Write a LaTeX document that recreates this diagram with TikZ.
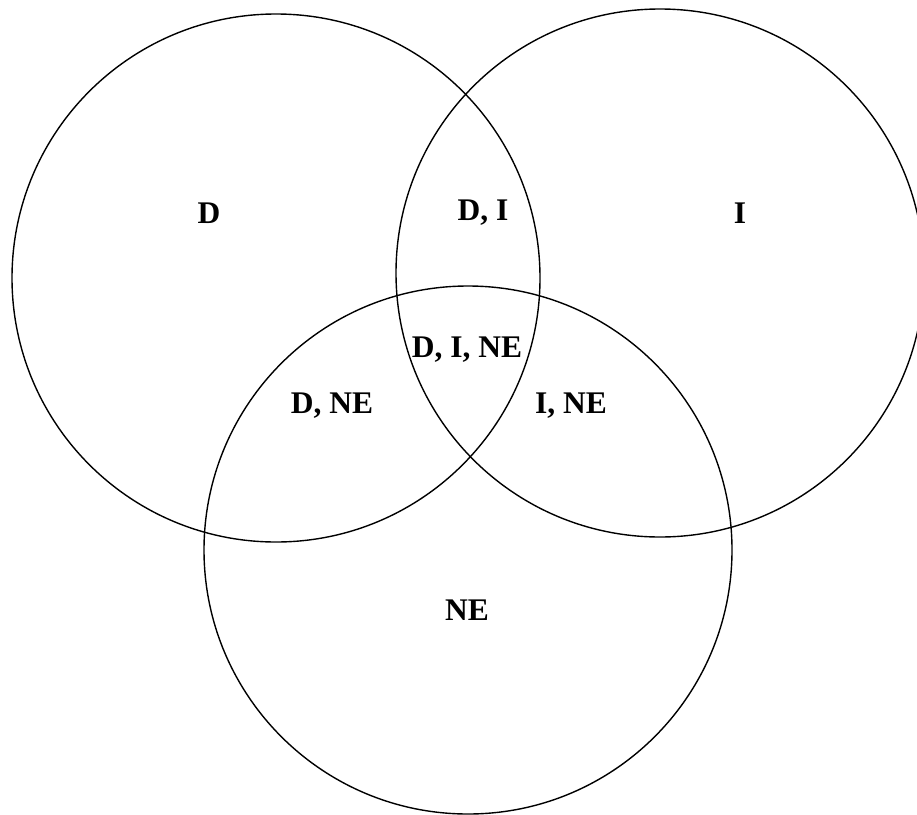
\documentclass[tikz,border=0pt]{standalone}
\usepackage{fontspec}
\setmainfont{Liberation Serif}
\usetikzlibrary{positioning}
\tikzset{
    setcircle/.style={circle, draw, minimum size=528pt, inner sep=0pt,
                      line width=1.4pt},
    region/.style={font=\fontsize{31.5}{34}\selectfont\bfseries, inner sep=0pt},
}

\begin{document}
\begin{tikzpicture}[x=1pt, y=-1pt]
    \useasboundingbox (0,0) rectangle (917,814);
    \node[setcircle] (d)  at (276,278) {};
    \node[setcircle] (i)  at (660,273) {};
    \node[setcircle] (ne) at (468,550) {};
    \node[region] (rd)    at (209,213) {D};
    \node[region] (rdi)   at (483,213) {D, I};
    \node[region] (ri)    at (740,213) {I};
    \node[region] (rdine) at (467,350) {D, I, NE};
    \node[region] (rdne)  at (332,406) {D, NE};
    \node[region] (rine)  at (571,406) {I, NE};
    \node[region] (rne)   at (467,610) {NE};
\end{tikzpicture}
\end{document}
